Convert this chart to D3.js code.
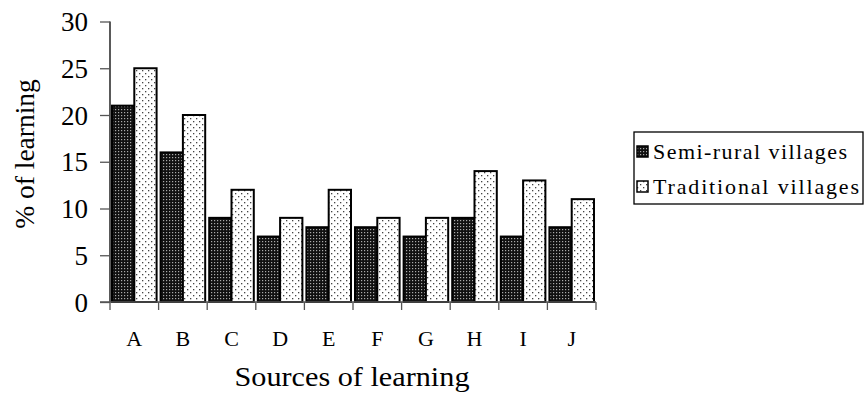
<!DOCTYPE html>
<html><head><meta charset="utf-8">
<script src="https://cdn.jsdelivr.net/npm/d3@7"></script>
<style>body{margin:0;background:#fff}svg{display:block}</style>
</head><body><div id="chart"></div>
<script>
const categories = ["A","B","C","D","E","F","G","H","I","J"];
const seriesNames = ["Semi-rural villages","Traditional villages"];
const semiRural = [21,16,9,7,8,8,7,9,7,8];
const traditional = [25,20,12,9,12,9,9,14,13,11];
const yTicks = [0,5,10,15,20,25,30];
const FONT = "'Liberation Serif', 'Times New Roman', serif";

const W=867,H=408;
const svg=d3.select("#chart").append("svg").attr("width",W).attr("height",H);
const defs=svg.append("defs");
const p1=defs.append("pattern").attr("id","pDark").attr("patternUnits","userSpaceOnUse").attr("width",3).attr("height",3);
p1.append("rect").attr("width",3).attr("height",3).attr("fill","#111");
p1.append("rect").attr("x",1).attr("y",1).attr("width",1.2).attr("height",1.2).attr("fill","#aaa");
const p2=defs.append("pattern").attr("id","pLight").attr("patternUnits","userSpaceOnUse").attr("width",6).attr("height",6);
p2.append("rect").attr("width",6).attr("height",6).attr("fill","#fff");
p2.append("rect").attr("x",1).attr("y",1).attr("width",1.3).attr("height",1.3).attr("fill","#444");
p2.append("rect").attr("x",4).attr("y",4).attr("width",1.3).attr("height",1.3).attr("fill","#444");

const x0=110,x1=596,yb=302,yt=21.5;
const x=d3.scaleBand().domain(categories).range([x0,x1]).paddingInner(0).paddingOuter(0);
const xs=d3.scaleBand().domain(seriesNames).range([0,x.bandwidth()]).paddingInner(0).paddingOuter(0.09);
const y=d3.scaleLinear().domain([0,30]).range([yb,yt]);

const data=categories.map((c,i)=>({c,vals:[semiRural[i],traditional[i]]}));
const fills=["url(#pDark)","url(#pLight)"];
const g=svg.append("g");
data.forEach(d=>{
  d.vals.forEach((v,j)=>{
    g.append("rect").attr("x",x(d.c)+xs(seriesNames[j])).attr("y",y(v))
     .attr("width",xs.bandwidth()).attr("height",yb-y(v))
     .attr("fill",fills[j]).attr("stroke","#000").attr("stroke-width",2);
  });
});

// y axis
const ya=svg.append("g").attr("transform",`translate(${x0},0)`)
  .call(d3.axisLeft(y).tickValues(yTicks).tickSize(10).tickPadding(12).tickFormat(d3.format("d")));
ya.attr("font-family",FONT);
ya.select(".domain").attr("d",`M0,${yt}V${yb}`).attr("stroke","#000").attr("stroke-width",1.3);
ya.selectAll(".tick line").attr("stroke","#555").attr("stroke-width",1.3);
ya.selectAll("text").attr("font-family",FONT).attr("font-size",27).attr("fill","#000").attr("dy","0.34em");

// x axis
const xa=svg.append("g").attr("transform",`translate(0,${yb})`)
  .call(d3.axisBottom(x).tickSize(0).tickPadding(28));
xa.attr("font-family",FONT);
xa.select(".domain").attr("d",`M${x0-10},0H${x1}`).attr("stroke","#555").attr("stroke-width",1.3);
xa.selectAll("text").attr("font-family",FONT).attr("font-size",22).attr("fill","#000");
const bounds=categories.map(c=>x(c)).concat([x1]);
xa.selectAll(".sep").data(bounds).enter().append("line").attr("class","sep")
  .attr("x1",d=>d).attr("x2",d=>d).attr("y1",0).attr("y2",8).attr("stroke","#555").attr("stroke-width",1.3);

svg.append("text").attr("transform",`translate(34,154) rotate(-90)`).attr("text-anchor","middle")
  .attr("font-family",FONT).attr("font-size",27.5).text("% of learning");
svg.append("text").attr("x",352).attr("y",386).attr("text-anchor","middle")
  .attr("font-family",FONT).attr("font-size",28).attr("textLength",235).attr("lengthAdjust","spacingAndGlyphs").text("Sources of learning");

// legend
const lg=svg.append("g");
lg.append("rect").attr("x",634).attr("y",132).attr("width",229).attr("height",72).attr("fill","#fff").attr("stroke","#000").attr("stroke-width",1.3);
seriesNames.forEach((n,i)=>{
  const cy=151+i*35;
  lg.append("rect").attr("x",637).attr("y",cy-5).attr("width",11).attr("height",11).attr("fill",fills[i]).attr("stroke","#000").attr("stroke-width",1.5);
  lg.append("text").attr("x",653).attr("y",cy).attr("dy","0.35em")
    .attr("font-family",FONT).attr("font-size",22).attr("textLength",i===0?194:206).attr("lengthAdjust","spacing").text(n);
});
</script></body></html>
